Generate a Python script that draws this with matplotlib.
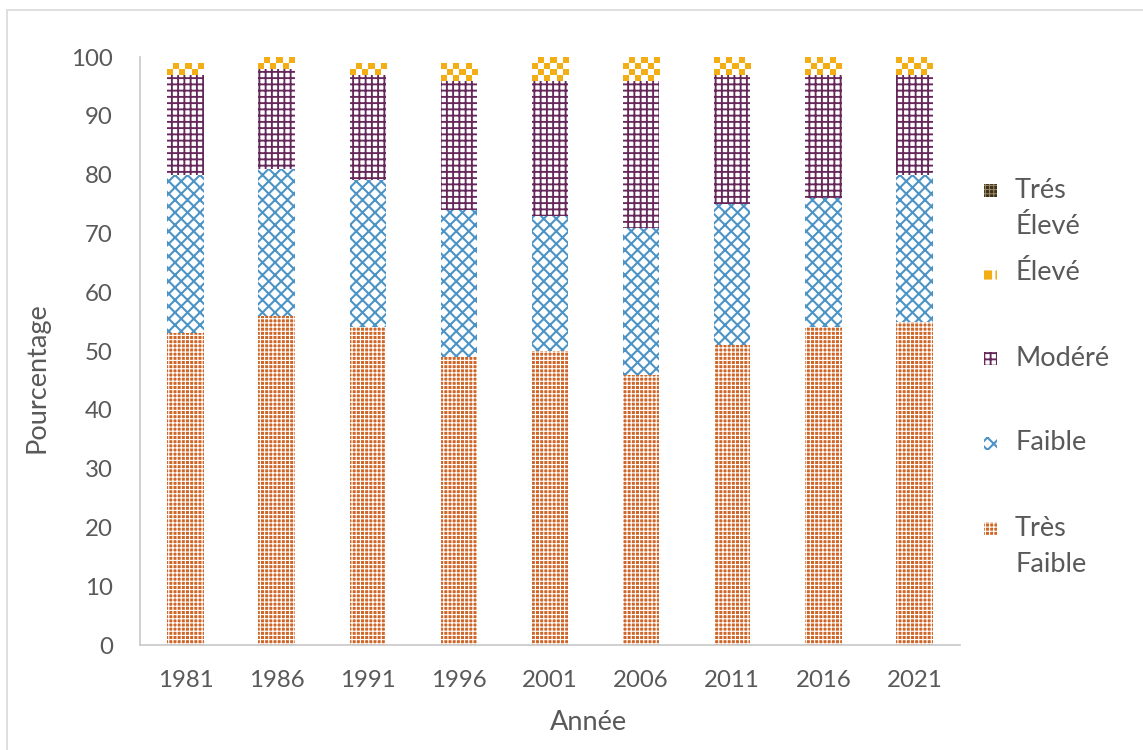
import matplotlib
matplotlib.use("Agg")
import matplotlib.pyplot as plt
from matplotlib.patches import Rectangle
from matplotlib.colors import to_rgb
import numpy as np

plt.rcParams["font.family"] = ["Lato", "DejaVu Sans"]

# Data: share of each class (%) per census year
years = ["1981", "1986", "1991", "1996", "2001", "2006", "2011", "2016", "2021"]
tres_faible = [53, 56, 54, 49, 50, 46, 51, 54, 55]
faible = [27, 25, 25, 25, 23, 25, 24, 22, 25]
modere = [17, 17, 18, 22, 23, 25, 22, 21, 17]
eleve = [2, 2, 2, 3, 4, 4, 3, 3, 3]
tres_eleve = [0, 0, 0, 0, 0, 0, 0, 0, 0]

series = [tres_faible, faible, modere, eleve, tres_eleve]
labels = ["Très\nFaible", "Faible", "Modéré", "Élevé", "Trés\nÉlevé"]

# Pattern fills: (face colour, hatch colour, hatch, hatch line width)
styles = [
    ("#CF6628", "#FFFFFF", "++++++", 0.55),
    ("#FFFFFF", "#4C93C6", "xxxx", 1.0),
    ("#FFFFFF", "#66285A", "++++", 0.9),
    ("#F2AE14", "#FFFFFF", "++", 1.6),
    ("#3B3022", "#9C8A5E", "++++++", 0.5),
]
GOLD = "#F2AE14"

TEXT = "#595959"
AXIS = "#C8C8C8"

fig = plt.figure(figsize=(7.62, 5.0), dpi=150)
W, H = 1143, 750
ax = fig.add_axes([140 / W, 1 - 645 / H, 820 / W, 588 / H])

x = np.arange(len(years))
bottom = np.zeros(len(years))


def style_patch(p, face, hcol, hatch, hlw):
    p.set_facecolor(face)
    p.set_edgecolor(hcol)
    p.set_linewidth(0)
    p.set_hatch(hatch)
    if hasattr(p, "set_hatch_linewidth"):
        p.set_hatch_linewidth(hlw)


containers = []
for vals, (face, hcol, hatch, hlw) in zip(series, styles):
    bars = ax.bar(x, vals, width=0.4, bottom=bottom)
    for p in bars:
        style_patch(p, face, hcol, hatch, hlw)
    containers.append(bars)
    bottom = bottom + np.array(vals)

# Checkerboard fill for the "Élevé" segments, clipped to each bar
gold = np.array(to_rgb(GOLD))
white = np.ones(3)
for p in containers[3]:
    x0, y0 = p.get_x(), p.get_y()
    w, h = p.get_width(), p.get_height()
    if h <= 0:
        continue
    p.set_hatch(None)
    p.set_facecolor("white")
    ncol, cy = 6, 1.0
    nrow = int(np.ceil(h / cy))
    grid = np.add.outer(np.arange(nrow)[::-1], np.arange(ncol)) % 2
    rgb = np.where(grid[..., None] == 0, gold, white)
    im = ax.imshow(rgb, extent=(x0, x0 + w, y0 + h - nrow * cy, y0 + h),
                   origin="upper", interpolation="nearest", aspect="auto",
                   zorder=2)
    im.set_clip_path(p)

ax.set_aspect("auto")
ax.set_xlim(-0.5, len(years) - 0.5)
ax.set_ylim(0, 100)
ax.set_yticks(range(0, 101, 10))
ax.set_xticks(x)
ax.set_xticklabels(years)
ax.tick_params(axis="both", length=0, labelsize=11.5, colors=TEXT)
ax.tick_params(axis="y", pad=13)
ax.tick_params(axis="x", pad=12)

for s in ("top", "right"):
    ax.spines[s].set_visible(False)
for s in ("left", "bottom"):
    ax.spines[s].set_color(AXIS)
    ax.spines[s].set_linewidth(0.8)

ax.set_xlabel("Année", fontsize=13, color=TEXT)
ax.set_ylabel("Pourcentage", fontsize=13, color=TEXT)
ax.xaxis.set_label_coords((588 - 140) / 820, (645 - 722) / 588)
ax.yaxis.set_label_coords((37 - 140) / 820, (645 - 378) / 588)
ax.xaxis.label.set_va("center")
ax.yaxis.label.set_va("center")
ax.yaxis.label.set_ha("center")

# Legend, top entry first
entry_y = [528, 443, 358, 273, 190]
line_step = 37
for lab, (face, hcol, hatch, hlw), yy in zip(labels, styles, entry_y):
    box = Rectangle((984 / W, 1 - (yy + 7) / H), 13 / W, 13 / H,
                    transform=fig.transFigure)
    style_patch(box, face, hcol, hatch, hlw)
    fig.add_artist(box)
    for i, line in enumerate(lab.split("\n")):
        fig.text(1015 / W, 1 - (yy + i * line_step) / H, line,
                 fontsize=13, color=TEXT, ha="left", va="center")

# Thin frame around the chart area
frame = Rectangle((7 / W, -0.05), 1.1, 1 - 10 / H + 0.05,
                  transform=fig.transFigure, fill=False,
                  edgecolor="#D9D9D9", linewidth=0.8)
fig.add_artist(frame)

fig.savefig("out.png", dpi=150)
